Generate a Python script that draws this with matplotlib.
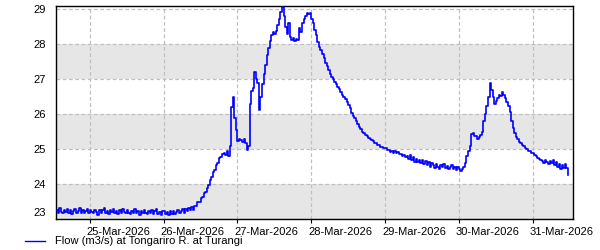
import matplotlib
matplotlib.use("Agg")
import matplotlib.pyplot as plt
import matplotlib.dates as mdates
from matplotlib.transforms import ScaledTranslation
from matplotlib.lines import Line2D
import pandas as pd

# half-hourly flow readings, starting 24-Mar-2026 13:00
flow = [
    23.25, 23.18, 23.32, 23.20, 23.16, 23.27, 23.20, 23.30, 23.18, 23.26, 23.14, 23.24,
    23.28, 23.18, 23.24, 23.32, 23.16, 23.26, 23.18, 23.24, 23.29, 23.17, 23.25, 23.19,
    23.16, 23.26, 23.20, 23.12, 23.27, 23.18, 23.25, 23.32, 23.17, 23.24, 23.15, 23.26,
    23.19, 23.28, 23.17, 23.24, 23.13, 23.25, 23.18, 23.30, 23.20, 23.16, 23.26, 23.18,
    23.15, 23.24, 23.18, 23.28, 23.16, 23.23, 23.12, 23.24, 23.17, 23.26, 23.18, 23.15,
    23.23, 23.16, 23.25, 23.14, 23.22, 23.28, 23.15, 23.21, 23.12, 23.22, 23.24, 23.14,
    23.20, 23.11, 23.22, 23.15, 23.24, 23.13, 23.21, 23.26, 23.16, 23.23, 23.28, 23.18,
    23.30, 23.22, 23.32, 23.25, 23.35, 23.27, 23.38, 23.38, 23.48, 23.50, 23.60, 23.62,
    23.74, 23.78, 23.90, 23.96, 24.12, 24.20, 24.35, 24.40, 24.54, 24.60, 24.74, 24.76,
    24.86, 24.88, 24.84, 24.94, 24.80, 25.10, 26.20, 26.48, 25.90, 25.55, 25.22, 25.30,
    25.26, 25.20, 25.28, 25.18, 24.98, 25.10, 26.30, 26.65, 26.75, 27.20, 27.00, 26.90,
    26.12, 26.50, 26.85, 27.15, 27.40, 27.70, 27.90, 28.10, 28.25, 28.35, 28.28, 28.38,
    28.55, 28.72, 28.92, 29.06, 28.80, 28.48, 28.28, 28.60, 28.20, 28.12, 28.18, 28.10,
    28.16, 28.12, 28.45, 28.35, 28.60, 28.72, 28.80, 28.88, 28.86, 28.90, 28.72, 28.60,
    28.40, 28.25, 28.07, 27.92, 27.84, 27.72, 27.60, 27.45, 27.37, 27.25, 27.14, 27.06,
    27.00, 26.92, 26.85, 26.78, 26.72, 26.64, 26.55, 26.48, 26.42, 26.34, 26.26, 26.17,
    26.02, 25.95, 25.88, 25.80, 25.72, 25.64, 25.57, 25.50, 25.46, 25.40, 25.37, 25.32,
    25.30, 25.25, 25.24, 25.18, 25.18, 25.13, 25.12, 25.07, 25.07, 25.02, 25.02, 24.97,
    24.97, 24.92, 24.95, 24.90, 24.93, 24.88, 24.91, 24.86, 24.87, 24.81, 24.83, 24.78,
    24.80, 24.72, 24.82, 24.68, 24.76, 24.64, 24.72, 24.62, 24.70, 24.60, 24.68, 24.58,
    24.66, 24.54, 24.62, 24.50, 24.60, 24.53, 24.46, 24.58, 24.50, 24.44, 24.54, 24.48,
    24.56, 24.46, 24.52, 24.42, 24.50, 24.55, 24.44, 24.50, 24.40, 24.48, 24.43, 24.38,
    24.42, 24.50, 24.60, 24.79, 24.95, 25.10, 25.42, 25.46, 25.36, 25.38, 25.30, 25.34,
    25.40, 25.50, 25.80, 26.00, 26.22, 26.50, 26.88, 26.70, 26.48, 26.30, 26.36, 26.45,
    26.55, 26.52, 26.62, 26.55, 26.46, 26.35, 26.22, 26.05, 25.80, 25.60, 25.45, 25.35,
    25.28, 25.20, 25.18, 25.12, 25.08, 25.03, 25.00, 24.95, 24.94, 24.90, 24.88, 24.82,
    24.80, 24.74, 24.72, 24.68, 24.66, 24.60, 24.68, 24.62, 24.56, 24.66, 24.60, 24.68,
    24.53, 24.62, 24.48, 24.58, 24.44, 24.54, 24.46, 24.56, 24.46, 24.27,
]
times = pd.date_range("2026-03-24 13:00", periods=len(flow), freq="30min")
bands = [(23, 24), (25, 26), (27, 28)]
y_ticks = [23, 24, 25, 26, 27, 28, 29]
label = "Flow (m3/s) at Tongariro R. at Turangi"

plt.rcParams['font.family'] = ['Liberation Sans', 'DejaVu Sans']

fig = plt.figure(figsize=(6, 2.5), dpi=100)
ax = fig.add_axes([0.0933, 0.124, 0.861, 0.852])

for lo, hi in bands:
    ax.axhspan(lo, hi, color='#e6e6e6', zorder=0, lw=0)

ax.plot(times, flow, color='#0000ff', lw=1.2, drawstyle='steps-post', zorder=3)

ax.set_xlim(pd.Timestamp("2026-03-24 13:00"), pd.Timestamp("2026-03-31 13:00"))
ax.set_ylim(23, 29.09)
ax.set_yticks(y_ticks)
ax.xaxis.set_major_locator(mdates.DayLocator())
ax.xaxis.set_major_formatter(mdates.DateFormatter('%d-%b-%Y'))

ax.grid(True, color='#c0c0c0', linestyle=(0, (3, 2)), lw=0.9, zorder=1)
ax.set_axisbelow(True)
ax.tick_params(axis='y', length=0, pad=7, labelsize=8)
ax.tick_params(axis='x', length=3, pad=3, labelsize=8, width=0.8)
for s in ax.spines.values():
    s.set_linewidth(1.0)
    s.set_color('black')

for lab in ax.get_xticklabels():
    lab.set_horizontalalignment('left')
    lab.set_transform(lab.get_transform() + ScaledTranslation(-0.03, 0, fig.dpi_scale_trans))
ylabs = ax.get_yticklabels()
ylabs[0].set_transform(ylabs[0].get_transform() + ScaledTranslation(0, 0.065, fig.dpi_scale_trans))

fig.add_artist(Line2D([25 / 600, 45 / 600], [1 - 241 / 250, 1 - 241 / 250],
                      color='#0000ff', lw=1.0, transform=fig.transFigure))
fig.text(55 / 600, 1 - 241 / 250, label, fontsize=8, va='center', ha='left')

fig.savefig('out.png', dpi=100)
